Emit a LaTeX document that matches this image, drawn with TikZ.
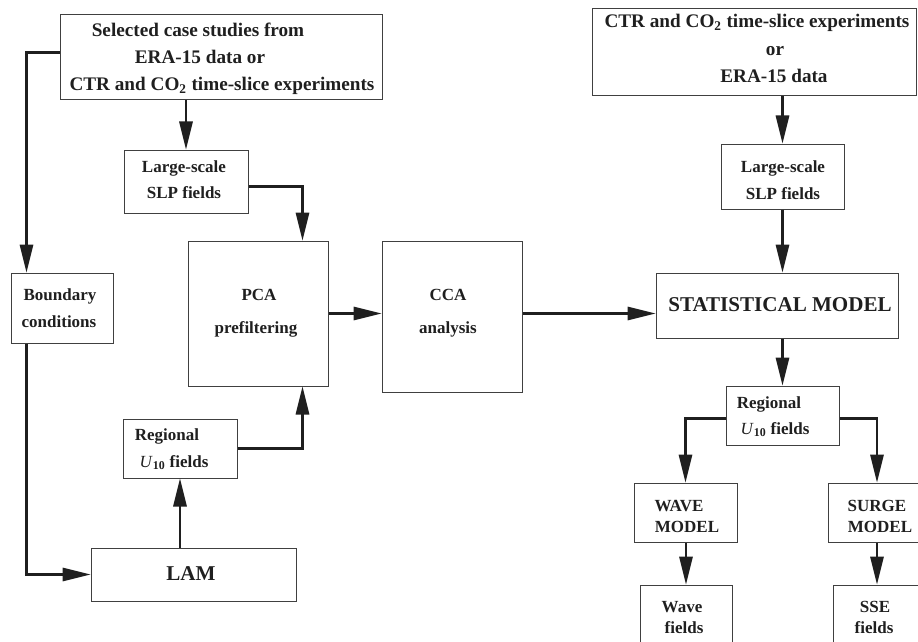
\documentclass[tikz,border=0pt]{standalone}
\usepackage{fontspec}
\setmainfont{Liberation Serif}
\usetikzlibrary{arrows.meta,fit,calc}
\begin{document}
\begin{tikzpicture}[x=0.75pt,y=-0.75pt,
  box/.style={draw=black!75,line width=0.75pt,inner sep=0pt},
  conn/.style={draw=black!88,line width=1.6pt,-{Triangle[length=21pt,width=10pt]}},
  plain/.style={draw=black!88,line width=1.6pt},
  txt/.style={anchor=base,inner sep=0pt,font=\bfseries\fontsize{12.75}{15}\selectfont,text=black!88},
  txtl/.style={anchor=base,inner sep=0pt,font=\bfseries\fontsize{14.4}{17}\selectfont,text=black!88},
  txtb/.style={anchor=base,inner sep=0pt,font=\bfseries\fontsize{15.8}{18}\selectfont,text=black!88}]
\useasboundingbox (0,0) rectangle (918,642);
\clip (0,0) rectangle (918,642);
% boxes
\node[box,fit={(60,15) (382,100)}] (tl) {};
\node[box,fit={(592,9) (916,96)}] (tr) {};
\node[box,fit={(124,150) (248,213)}] (lsl) {};
\node[box,fit={(721,144) (844,209)}] (lsr) {};
\node[box,fit={(11,273) (113,343)}] (bc) {};
\node[box,fit={(188,241) (328,386)}] (pca) {};
\node[box,fit={(382,241) (522,392)}] (cca) {};
\node[box,fit={(656,273) (898,338)}] (stat) {};
\node[box,fit={(123,419) (237,478)}] (rul) {};
\node[box,fit={(91,548) (296,601)}] (lam) {};
\node[box,fit={(726,386) (839,445)}] (rur) {};
\node[box,fit={(634,483) (737,542)}] (wave) {};
\node[box,fit={(828,483) (926,542)}] (surge) {};
\node[box,fit={(640,585) (732,660)}] (wf) {};
\node[box,fit={(833,585) (921,660)}] (sse) {};
% texts
\node[txtl] (t1a) at (198,37) {Selected case studies from};
\node[txtl] (t1b) at (200,64) {ERA-15 data or};
\node[txtl] (t1c) at (222,91) {CTR and CO\textsubscript{2} time-slice experiments};
\node[txtl] (t2a) at (757,28) {CTR and CO\textsubscript{2} time-slice experiments};
\node[txtl] (t2b) at (775,56) {or};
\node[txtl] (t2c) at (774,83) {ERA-15 data};
\node[txt] (t3a) at (184,172) {Large-scale};
\node[txt] (t3b) at (184,198) {SLP fields};
\node[txt] (t4a) at (783,172) {Large-scale};
\node[txt] (t4b) at (783,199) {SLP fields};
\node[txt] (t5a) at (60,300) {Boundary};
\node[txt] (t5b) at (59,327) {conditions};
\node[txt] (t6a) at (259,300) {PCA};
\node[txt] (t6b) at (256,333) {prefiltering};
\node[txt] (t7a) at (448,300) {CCA};
\node[txt] (t7b) at (448,333) {analysis};
\node[txtb] (t8) at (780,311) {STATISTICAL MODEL};
\node[txt] (t9a) at (167,440) {Regional};
\node[txt] (t9b) at (174,467) {\textmd{\itshape U}\textsubscript{10} fields};
\node[txtb] (t10) at (191,580) {LAM};
\node[txt] (t11a) at (769,408) {Regional};
\node[txt] (t11b) at (775,434) {\textmd{\itshape U}\textsubscript{10} fields};
\node[txt] (t12a) at (679,511) {WAVE};
\node[txt] (t12b) at (687,532) {MODEL};
\node[txt] (t13a) at (877,511) {SURGE};
\node[txt] (t13b) at (880,532) {MODEL};
\node[txt] (t14a) at (682,612) {Wave};
\node[txt] (t14b) at (684,633) {fields};
\node[txt] (t15a) at (875,612) {SSE};
\node[txt] (t15b) at (874,633) {fields};
% connectors
\draw[conn] (tl.north west) ++(0,38) -| ($(bc.north west)+(16,0)$);
\draw[conn] (lsl.north |- tl.south) -- (lsl.north);
\draw[conn] ($(lsl.east)+(0,5)$) -| ($(pca.north east)+(-26,0)$);
\draw[conn] ($(bc.south west)+(16,0)$) |- (lam.west);
\draw[conn] (rul.south |- lam.north) -- (rul.south);
\draw[conn] (rul.east) -| ($(pca.south east)+(-26,0)$);
\draw[conn] (pca.east) -- (pca.east -| cca.west);
\draw[conn] (cca.east |- pca.east) -- (stat.west |- pca.east);
\draw[conn] (lsr.north |- tr.south) -- (lsr.north);
\draw[conn] (lsr.south) -- (lsr.south |- stat.north);
\draw[conn] (rur.north |- stat.south) -- (rur.north);
\draw[conn] ($(rur.west)+(0,3)$) -| (wave.north);
\draw[conn] ($(rur.east)+(0,3)$) -| (surge.north);
\draw[conn] (wf.north |- wave.south) -- (wf.north);
\draw[conn] (surge.south) -- (surge.south |- sse.north);
\end{tikzpicture}
\end{document}
